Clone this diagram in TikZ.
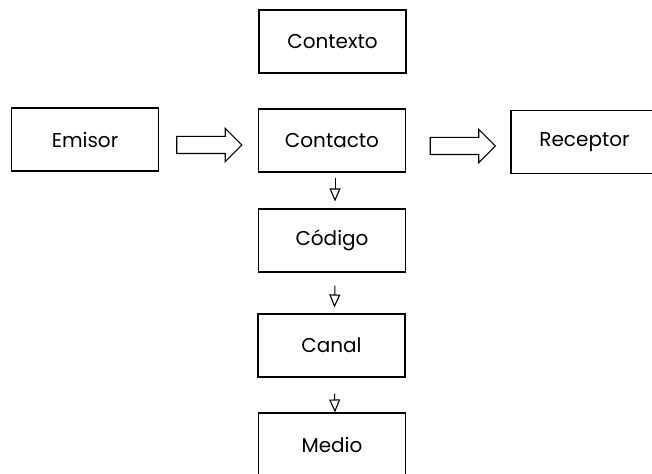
\documentclass[tikz,border=0pt]{standalone}
\usepackage{fontspec}
\setmainfont{Poppins}
\usetikzlibrary{arrows.meta,shapes.arrows,calc}
\begin{document}
\begin{tikzpicture}[x=1pt,y=-1pt,
  box/.style={draw=black,line width=1.1pt,minimum width=147pt,minimum height=63pt,inner sep=0pt,font=\fontsize{20}{22}\selectfont},
  blockarrow/.style={draw=black,line width=1.1pt,single arrow,single arrow head extend=8pt,minimum width=32pt,minimum height=65pt,inner sep=0pt,inner ysep=8pt,shape border rotate=0},
  smallarrow/.style={draw=black,line width=1pt,-{Triangle[open,width=11pt,length=13pt,line width=1.1pt]}}
]
\useasboundingbox (0,0) rectangle (652,473);
\clip (0,0) rectangle (652,473);
\node[box] (contexto) at (332.5,41.5) {Contexto};
\node[box] (emisor) at (85,139.5) {Emisor};
\node[box] (contacto) at (332,140.5) {Contacto};
\node[box] (receptor) at (584.5,142) {Receptor};
\node[box] (codigo) at (332,240.5) {Código};
\node[box] (canal) at (331.5,345.5) {Canal};
\node[box] (medio) at (332,444.5) {Medio};
\node[blockarrow] (a1) at (205,145) {};
\node[blockarrow] (a2) at (458.5,146) {};
\draw[smallarrow] ([xshift=3pt,yshift=-5pt]contacto.south) -- ([xshift=3pt,yshift=7pt]codigo.north);
\draw[smallarrow] ([xshift=3pt,yshift=-13pt]codigo.south) -- ([xshift=3pt,yshift=6pt]canal.north);
\draw[smallarrow] ([xshift=3pt,yshift=-16pt]canal.south) -- ([xshift=3pt,yshift=0pt]medio.north);
\end{tikzpicture}
\end{document}
